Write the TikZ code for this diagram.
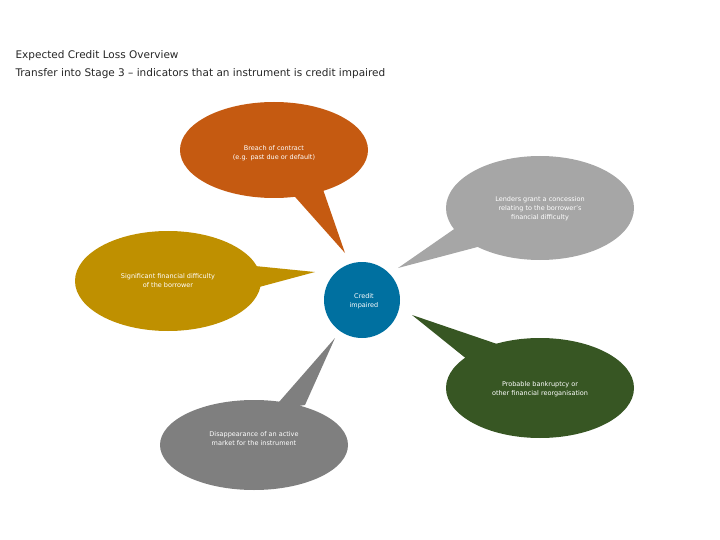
\documentclass[tikz,border=0pt]{standalone}
\usepackage{fontspec}
\setmainfont{DejaVu Sans}
\definecolor{corange}{RGB}{197,90,17}
\definecolor{clgray}{RGB}{166,166,166}
\definecolor{cgold}{RGB}{191,144,0}
\definecolor{cblue}{RGB}{0,112,160}
\definecolor{cgreen}{RGB}{55,86,35}
\definecolor{cgray}{RGB}{127,127,127}
\begin{document}
\begin{tikzpicture}[x=1pt,y=-1pt,
  lbl/.style={text=white,font=\fontsize{6.5}{9}\selectfont,align=center},
  ttl/.style={anchor=west,font=\fontsize{10.5}{13}\selectfont,text=black!85}]
\useasboundingbox (0,0) rectangle (720,540);
\node[ttl] (t1) at (12,56) {Expected Credit Loss Overview};
\node[ttl] (t2) at (12,74) {Transfer into Stage 3 – indicators that an instrument is credit impaired};
% orange
\fill[corange] (280,180) -- (345,253) -- (318,175) -- cycle;
\fill[corange] (274,150) ellipse [x radius=94,y radius=48];
\node[lbl] (a) at (274,153) {Breach of contract\\(e.g. past due or default)};
% light gray
\fill[clgray] (460,225) -- (398,268) -- (485,245) -- cycle;
\fill[clgray] (540,208) ellipse [x radius=94,y radius=52];
\node[lbl] (b) at (540,209) {Lenders grant a concession\\relating to the borrower's\\financial difficulty};
% gold
\fill[cgold] (245,265) -- (315,272) -- (248,290) -- cycle;
\fill[cgold] (168,281) ellipse [x radius=93,y radius=50];
\node[lbl] (c) at (168,281) {Significant financial difficulty\\of the borrower};
% blue
\fill[cblue] (362,300) circle [radius=38];
\node[lbl] (d) at (364,301) {Credit\\impaired};
% green
\fill[cgreen] (468,360) -- (412,315) -- (500,345) -- cycle;
\fill[cgreen] (540,388) ellipse [x radius=94,y radius=50];
\node[lbl] (e) at (540,389) {Probable bankruptcy or\\other financial reorganisation};
% gray
\fill[cgray] (272,410) -- (335,338) -- (305,405) -- cycle;
\fill[cgray] (254,445) ellipse [x radius=94,y radius=45];
\node[lbl] (f) at (254,439) {Disappearance of an active\\market for the instrument};
\end{tikzpicture}
\end{document}
